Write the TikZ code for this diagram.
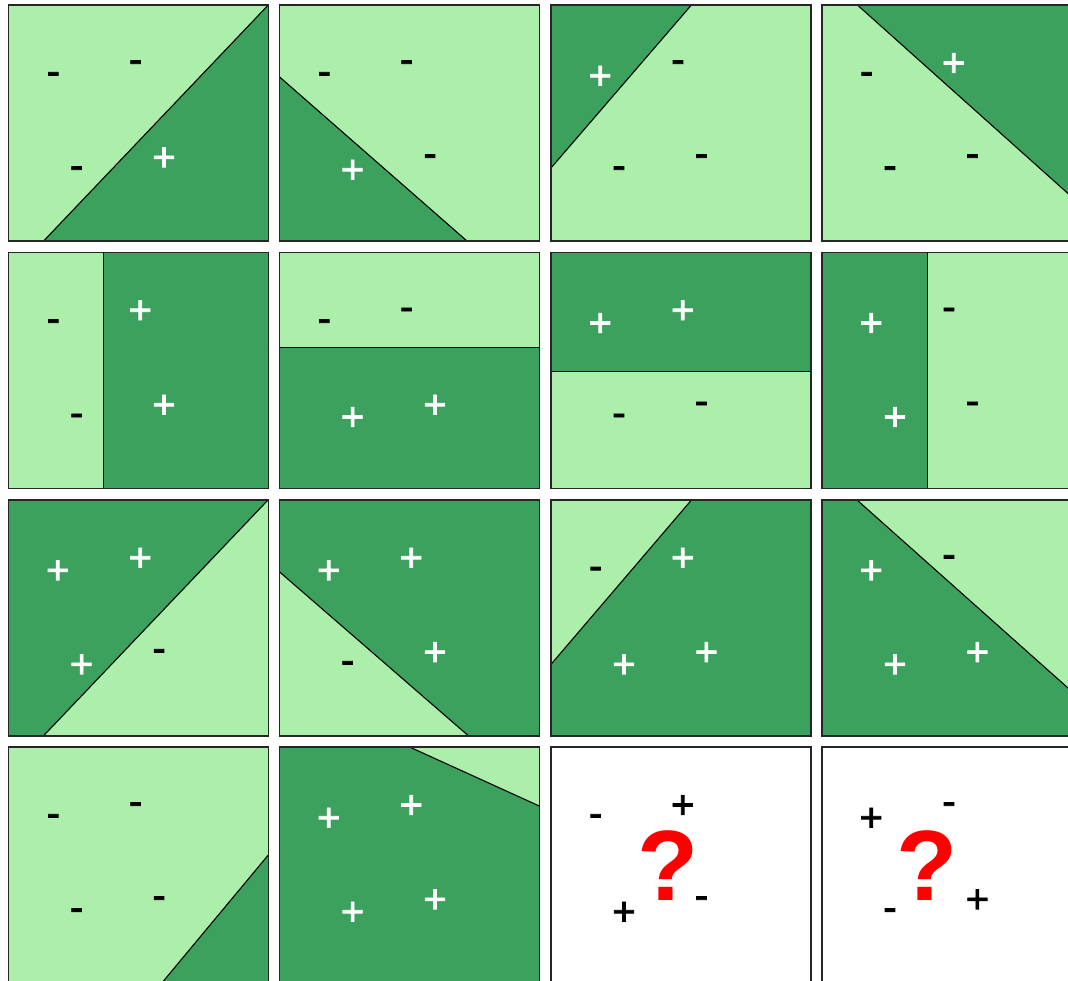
\documentclass[tikz,border=0pt]{standalone}
\usepackage{fontspec}
\setmainfont{Liberation Sans}
\newfontfamily\sgnfont[FakeBold=2]{Liberation Sans}
\definecolor{lg}{RGB}{171,239,171}
\definecolor{dg}{RGB}{61,161,94}
\tikzset{
  sgn/.style={font=\sgnfont\fontsize{40}{40}\selectfont,anchor=base,inner sep=0pt},
  qm/.style={font=\fontsize{100}{100}\selectfont\bfseries,text=red,anchor=base,inner sep=0pt},
  split/.style={draw=black,line width=1.1pt},
  frame/.style={draw=black!85,line width=1.6pt},
}
\def\pcol{white}
\newcommand\slot[6]{\if#2+\node[sgn,text=\pcol] (#1) at (#5,#6) {+};\else\node[sgn,text=black] (#1) at (#3,#4) {-};\fi}
\newcommand\UL[2]{\slot{#1}{#2}{45}{79.5}{49.5}{84}}
\newcommand\UR[2]{\slot{#1}{#2}{127.3}{67.8}{132}{71.3}}
\newcommand\LL[2]{\slot{#1}{#2}{68.3}{173.8}{73.3}{178}}
\newcommand\LR[2]{\slot{#1}{#2}{150.8}{161.8}{155.7}{165.7}}
\begin{document}
\begin{tikzpicture}[x=1pt,y=-1pt]
\useasboundingbox (0,0) rectangle (1068,980);
\fill[white] (0,0) rectangle (1068,980);
\clip (0,0) rectangle (1068,980);
% Row 1
\begin{scope}[shift={(8.3,5)}]
\fill[lg] (0,0) rectangle (260,236);
\fill[dg] (35.3,236) -- (260,0) -- (260,236) -- cycle;
\draw[split] (35.3,236) -- (260,0);
\draw[frame] (0,0) rectangle (260,236);
\UL{a1}{-}\UR{b1}{-}\LL{c1}{-}\LR{d1}{+}
\end{scope}
\begin{scope}[shift={(279.3,5)}]
\fill[lg] (0,0) rectangle (260,236);
\fill[dg] (0,71.7) -- (187.7,236) -- (0,236) -- cycle;
\draw[split] (0,71.7) -- (187.7,236);
\draw[frame] (0,0) rectangle (260,236);
\UL{a2}{-}\UR{b2}{-}\LL{c2}{+}\LR{d2}{-}
\end{scope}
\begin{scope}[shift={(550.7,5)}]
\fill[lg] (0,0) rectangle (260,236);
\fill[dg] (0,0) -- (140.7,0) -- (0,163.3) -- cycle;
\draw[split] (140.7,0) -- (0,163.3);
\draw[frame] (0,0) rectangle (260,236);
\UL{a3}{+}\UR{b3}{-}\LL{c3}{-}\LR{d3}{-}
\end{scope}
\begin{scope}[shift={(821.7,5)}]
\fill[lg] (0,0) rectangle (260,236);
\fill[dg] (35.7,0) -- (260,0) -- (260,200.8) -- cycle;
\draw[split] (35.7,0) -- (260,200.8);
\draw[frame] (0,0) rectangle (260,236);
\UL{a4}{-}\UR{b4}{+}\LL{c4}{-}\LR{d4}{-}
\end{scope}
% Row 2
\begin{scope}[shift={(8.3,252.3)}]
\fill[lg] (0,0) rectangle (260,236);
\fill[dg] (95,0) rectangle (260,236);
\draw[split] (95,0) -- (95,236);
\draw[frame] (0,0) rectangle (260,236);
\UL{a5}{-}\UR{b5}{+}\LL{c5}{-}\LR{d5}{+}
\end{scope}
\begin{scope}[shift={(279.3,252.3)}]
\fill[lg] (0,0) rectangle (260,236);
\fill[dg] (0,95) rectangle (260,236);
\draw[split] (0,95) -- (260,95);
\draw[frame] (0,0) rectangle (260,236);
\UL{a6}{-}\UR{b6}{-}\LL{c6}{+}\LR{d6}{+}
\end{scope}
\begin{scope}[shift={(550.7,252.3)}]
\fill[lg] (0,0) rectangle (260,236);
\fill[dg] (0,0) rectangle (260,119);
\draw[split] (0,119) -- (260,119);
\draw[frame] (0,0) rectangle (260,236);
\UL{a7}{+}\UR{b7}{+}\LL{c7}{-}\LR{d7}{-}
\end{scope}
\begin{scope}[shift={(821.7,252.3)}]
\fill[lg] (0,0) rectangle (260,236);
\fill[dg] (0,0) rectangle (106,236);
\draw[split] (106,0) -- (106,236);
\draw[frame] (0,0) rectangle (260,236);
\UL{a8}{+}\UR{b8}{-}\LL{c8}{+}\LR{d8}{-}
\end{scope}
% Row 3
\begin{scope}[shift={(8.3,499.7)}]
\fill[dg] (0,0) rectangle (260,236);
\fill[lg] (35.3,236) -- (260,0) -- (260,236) -- cycle;
\draw[split] (35.3,236) -- (260,0);
\draw[frame] (0,0) rectangle (260,236);
\UL{a9}{+}\UR{b9}{+}\LL{c9}{+}\LR{d9}{-}
\end{scope}
\begin{scope}[shift={(279.3,499.7)}]
\fill[dg] (0,0) rectangle (260,236);
\fill[lg] (0,72) -- (189,236) -- (0,236) -- cycle;
\draw[split] (0,72) -- (189,236);
\draw[frame] (0,0) rectangle (260,236);
\UL{a10}{+}\UR{b10}{+}\LL{c10}{-}\LR{d10}{+}
\end{scope}
\begin{scope}[shift={(550.7,499.7)}]
\fill[dg] (0,0) rectangle (260,236);
\fill[lg] (0,0) -- (141,0) -- (0,165) -- cycle;
\draw[split] (141,0) -- (0,165);
\draw[frame] (0,0) rectangle (260,236);
\UL{a11}{-}\UR{b11}{+}\LL{c11}{+}\LR{d11}{+}
\end{scope}
\begin{scope}[shift={(821.7,499.7)}]
\fill[dg] (0,0) rectangle (260,236);
\fill[lg] (35,0) -- (260,0) -- (260,200.5) -- cycle;
\draw[split] (35,0) -- (260,200.5);
\draw[frame] (0,0) rectangle (260,236);
\UL{a12}{+}\UR{b12}{-}\LL{c12}{+}\LR{d12}{+}
\end{scope}
% Row 4
\begin{scope}[shift={(8.3,747)}]
\fill[lg] (0,0) rectangle (260,236);
\fill[dg] (260,108) -- (260,236) -- (153.5,236) -- cycle;
\draw[split] (260,108) -- (153.5,236);
\draw[frame] (0,0) rectangle (260,236);
\UL{a13}{-}\UR{b13}{-}\LL{c13}{-}\LR{d13}{-}
\end{scope}
\begin{scope}[shift={(279.3,747)}]
\fill[dg] (0,0) rectangle (260,236);
\fill[lg] (130.3,0) -- (260,0) -- (260,59) -- cycle;
\draw[split] (130.3,0) -- (260,59);
\draw[frame] (0,0) rectangle (260,236);
\UL{a14}{+}\UR{b14}{+}\LL{c14}{+}\LR{d14}{+}
\end{scope}
\begin{scope}[shift={(550.7,747)}]
\def\pcol{black}
\fill[white] (0,0) rectangle (260,236);
\draw[frame] (0,0) rectangle (260,236);
\UL{a15}{-}\UR{b15}{+}\LL{c15}{+}\LR{d15}{-}
\node[qm] (q15) at (117,153) {\makebox[50pt]{?}};
\end{scope}
\begin{scope}[shift={(821.7,747)}]
\def\pcol{black}
\fill[white] (0,0) rectangle (260,236);
\draw[frame] (0,0) rectangle (260,236);
\UL{a16}{+}\UR{b16}{-}\LL{c16}{-}\LR{d16}{+}
\node[qm] (q16) at (105.2,153) {\makebox[50pt]{?}};
\end{scope}
\end{tikzpicture}
\end{document}
